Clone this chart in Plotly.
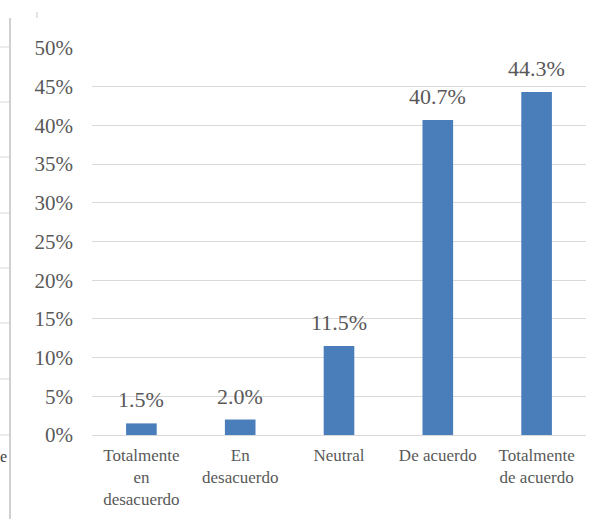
import plotly.graph_objects as go

categories = ["Totalmente<br>en<br>desacuerdo", "En<br>desacuerdo", "Neutral",
              "De acuerdo", "Totalmente<br>de acuerdo"]
shares = [0.015, 0.020, 0.115, 0.407, 0.443]
y_ticks = [0, 0.05, 0.10, 0.15, 0.20, 0.25, 0.30, 0.35, 0.40, 0.45, 0.50]

text_color = "#595959"
grid_color = "#d9d9d9"
serif = "'Liberation Serif', 'Times New Roman', serif"

fig = go.Figure(go.Bar(
    x=categories,
    y=shares,
    width=0.31,
    marker=dict(color="#4a7ebb", line=dict(width=0)),
    cliponaxis=False,
))

# value labels sitting above each bar
labels = [dict(x=c, y=v, text=f"{v * 100:.1f}%", xref="x", yref="y",
               xanchor="center", yanchor="bottom", yshift=9, showarrow=False,
               font=dict(family=serif, size=22, color=text_color))
          for c, v in zip(categories, shares)]

# edge of the neighbouring panel on the left side of the page
shapes = []
for yy in [47, 102, 157, 213, 268, 323, 379, 435]:
    shapes.append(dict(type="line", xref="paper", yref="paper",
                       x0=-92 / 494, x1=-83 / 494,
                       y0=(435 - yy) / 387, y1=(435 - yy) / 387,
                       line=dict(color=grid_color, width=1)))
shapes.append(dict(type="line", xref="paper", yref="paper",
                   x0=-82 / 494, x1=-82 / 494,
                   y0=(435 - 18) / 387, y1=(435 - 519) / 387,
                   line=dict(color="#d0d0d0", width=2)))
shapes.append(dict(type="line", xref="paper", yref="paper",
                   x0=-55 / 494, x1=-55 / 494,
                   y0=(435 - 12) / 387, y1=(435 - 18) / 387,
                   line=dict(color="#c8c8c8", width=1)))

labels.append(dict(text="e", xref="paper", yref="paper",
                   x=-94 / 494, y=(435 - 456) / 387,
                   xanchor="left", yanchor="middle", showarrow=False,
                   font=dict(family=serif, size=16, color="#404040")))

fig.update_layout(
    width=601, height=519,
    margin=dict(l=92, r=15, t=48, b=84),
    paper_bgcolor="white", plot_bgcolor="white",
    showlegend=False,
    shapes=shapes,
    annotations=labels,
    xaxis=dict(
        showgrid=False, showline=False, zeroline=False,
        tickfont=dict(family=serif, size=17, color=text_color),
        ticks="", ticklabelstandoff=8, automargin=False,
    ),
    yaxis=dict(
        range=[0, 0.5],
        tickvals=y_ticks,
        tickformat=".0%",
        showgrid=True, gridcolor=grid_color, gridwidth=1,
        zeroline=True, zerolinecolor=grid_color, zerolinewidth=1,
        showline=False, ticks="",
        ticklabelstandoff=18, automargin=False,
        tickfont=dict(family=serif, size=21, color=text_color),
    ),
)

fig.write_html("out.html")
